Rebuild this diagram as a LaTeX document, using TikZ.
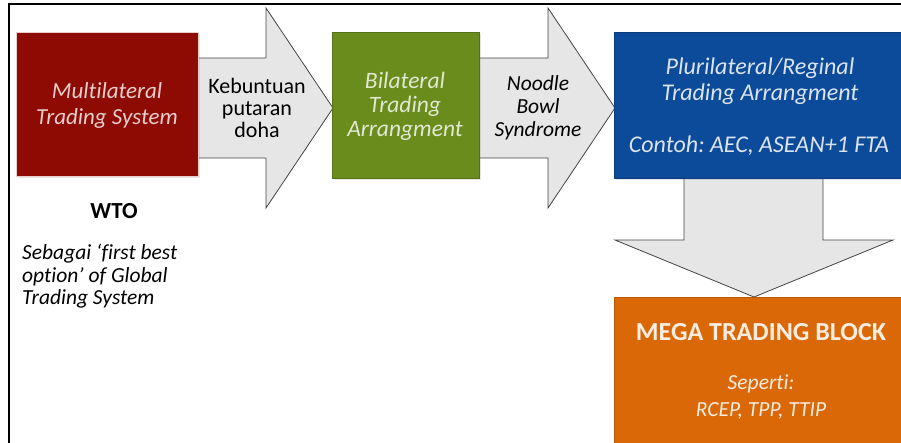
\documentclass[tikz,border=0pt]{standalone}
\usepackage{fontspec}
\setmainfont{Carlito}[Ligatures=NoCommon]
\frenchspacing
\usetikzlibrary{shadows}
\definecolor{wred}{HTML}{8E0B04}
\definecolor{wgreen}{HTML}{6A8C1C}
\definecolor{wblue}{HTML}{0C4A9A}
\definecolor{worange}{HTML}{DA6806}
\definecolor{arrfill}{HTML}{E6E6E6}
\definecolor{arrline}{HTML}{444444}
\tikzset{
  box/.style={draw=#1!80!black, fill=#1, line width=0.8pt},
  arrowshape/.style={fill=arrfill, draw=arrline, line width=0.8pt, line join=miter},
  txt/.style={align=center, inner sep=0pt},
}
\begin{document}
\begin{tikzpicture}[x=1pt,y=-1pt]
\useasboundingbox (0,0) rectangle (901,442);
% frame
\draw[line width=2pt] (9,450) -- (9,4) -- (905,4);
% arrows (behind boxes)
\draw[arrowshape] (195,58) -- (266,58) -- (266,8) -- (333,108) -- (266,208) -- (266,158) -- (195,158) -- cycle;
\draw[arrowshape] (478,58) -- (548,58) -- (548,8) -- (615,108) -- (548,208) -- (548,158) -- (478,158) -- cycle;
\draw[arrowshape] (684,175) -- (823,175) -- (823,240) -- (893,240) -- (754,297) -- (615,240) -- (684,240) -- cycle;
% boxes
\path[box=wred, draw=white!80!wred, drop shadow={opacity=0.2}] (16,32) rectangle (198,176);
\path[box=wgreen, drop shadow={opacity=0.2}] (332,32) rectangle (479,178);
\path[box=wblue, drop shadow={opacity=0.2}] (614,32) rectangle (910,178);
\path[box=worange, draw=worange!85!black, drop shadow={opacity=0.2}] (614,297) rectangle (910,450);
% texts
\node[txt, text=white!80!wred, font=\fontsize{23}{26}\selectfont\itshape] (t1) at (107,105) {Multilateral\\Trading System};
\node[txt, font=\fontsize{22}{22}\selectfont] (t2) at (257,108) {Kebuntuan\\putaran\\doha};
\node[txt, font=\fontsize{23}{24}\selectfont\bfseries] (wto) at (114,211) {WTO};
\node[txt, align=left, anchor=north west, font=\fontsize{21.5}{22.5}\selectfont\itshape] (seb) at (22,244) {Sebagai ‘first best\\option’ of Global\\Trading System};
\node[txt, text=white!80!wgreen, font=\fontsize{23.5}{24}\selectfont\itshape] (t3) at (405,106) {Bilateral\\Trading\\Arrangment};
\node[txt, font=\fontsize{21.5}{23}\selectfont\itshape] (t4) at (538,108) {Noodle\\Bowl\\Syndrome};
\node[txt, text=white!85!wblue, font=\fontsize{24}{26}\selectfont\itshape] (t5) at (760,81) {Plurilateral/Reginal\\Trading Arrangment};
\node[txt, text=white!85!wblue, font=\fontsize{24}{24}\selectfont\itshape] (t6) at (759,146) {Contoh: AEC, ASEAN+1 FTA};
\node[txt, text=white!88!worange, font=\fontsize{26}{26}\selectfont\bfseries] (t7) at (761,332) {MEGA TRADING BLOCK};
\node[txt, text=white!88!worange, font=\fontsize{21.5}{27}\selectfont\itshape] (t8) at (761,397) {Seperti:\\RCEP, TPP, TTIP};
\end{tikzpicture}
\end{document}
